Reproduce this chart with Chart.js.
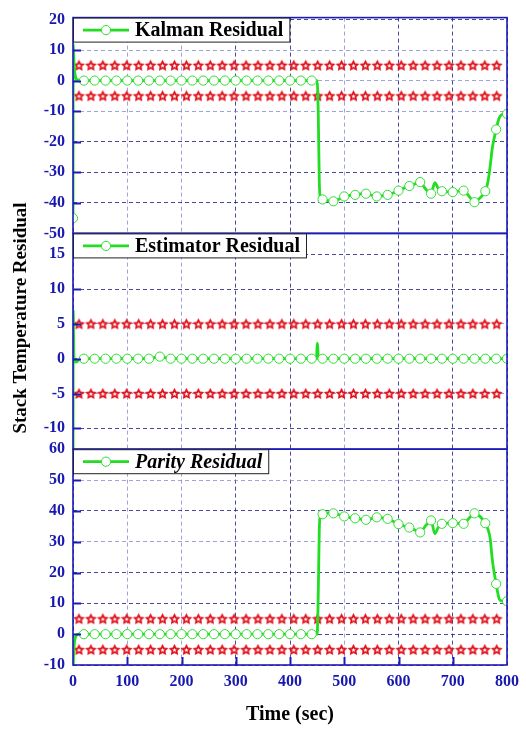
<!DOCTYPE html>
<html><head><meta charset="utf-8">
<script src="https://cdn.jsdelivr.net/npm/chart.js@4.4.1/dist/chart.umd.min.js"></script>
<style>html,body{margin:0;padding:0;background:#fff;}#wrap{width:526px;height:731px;position:relative;}</style>
</head><body><div id="wrap"><canvas id="c" width="526" height="731"></canvas></div>
<script>
// ---------- DATA ----------
const timeTicks = [0, 100, 200, 300, 400, 500, 600, 700, 800];

const kalmanT = [0, 0.4, 1.5, 3, 5, 8, 20, 40, 60, 80, 100, 120, 140, 160, 180, 200, 220, 240, 260, 280, 300, 320, 340, 360, 380, 400, 420, 440, 450, 452, 454, 456, 460, 470, 480, 490, 500, 510, 520, 530, 540, 550, 560, 570, 580, 590, 600, 610, 620, 630, 640, 650, 660, 667, 673, 680, 690, 700, 710, 720, 729, 740, 750, 760, 765, 769, 773, 780, 785, 790, 800];
const kalmanV = [-45, 12, 7, 3, 1, 0.2, 0, 0, 0, 0, 0, 0, 0, 0, 0, 0, 0, 0, 0, 0, 0, 0, 0, 0, 0, 0, 0, 0, 0, -10, -33, -38.5, -38.9, -39.3, -39.5, -38.8, -37.9, -37.6, -37.4, -37.1, -37, -37.5, -37.9, -37.7, -37.4, -36.8, -36, -35.2, -34.5, -33.8, -33.2, -35.5, -37, -33.4, -35.2, -36.2, -36.4, -36.5, -36.2, -36, -37.6, -39.8, -38.4, -36.2, -33, -28, -22, -16, -12.5, -11.2, -10.9];

const estT = [0, 0.4, 1.5, 3, 6, 10, 20, 40, 60, 80, 100, 120, 140, 160, 180, 200, 220, 240, 260, 280, 300, 320, 340, 360, 380, 400, 420, 440, 449, 450, 451, 452, 460, 480, 500, 520, 540, 560, 580, 600, 620, 640, 660, 680, 700, 720, 740, 760, 780, 800];
const estV = [-20, 7, 0.8, -0.3, -0.5, -0.2, 0, 0, 0, 0, 0, 0, 0, 0.3, 0, 0, 0, 0, 0, 0, 0, 0, 0, 0, 0, 0, 0, 0, 0, 2.2, 2.2, 0, 0, 0, 0, 0, 0, 0, 0, 0, 0, 0, 0, 0, 0, 0, 0, 0, 0, 0];

const parityT = [0, 1, 2.5, 4.5, 7, 10, 20, 40, 60, 80, 100, 120, 140, 160, 180, 200, 220, 240, 260, 280, 300, 320, 340, 360, 380, 400, 420, 440, 450, 452, 454, 456, 460, 470, 480, 490, 500, 510, 520, 530, 540, 550, 560, 570, 580, 590, 600, 610, 620, 630, 640, 650, 660, 667, 673, 680, 690, 700, 710, 720, 730, 740, 750, 760, 765, 769, 773, 780, 786, 792, 800];
const parityV = [-14, -7, -3, -1, -0.2, 0, 0, 0, 0, 0, 0, 0, 0, 0, 0, 0, 0, 0, 0, 0, 0, 0, 0, 0, 0, 0, 0, 0, 0, 12, 34, 38.5, 38.9, 39.3, 39.2, 38.8, 38.2, 37.8, 37.6, 37.3, 37.1, 37.5, 37.9, 37.7, 37.4, 36.6, 35.7, 35.1, 34.6, 33.8, 33, 35.2, 36.9, 32.6, 34.5, 35.8, 36, 36, 35.9, 35.8, 37.6, 39.2, 38.2, 36, 34, 31, 24, 16.3, 11.3, 10.7, 10.7];

const threshX = [11, 33, 55, 77, 99, 121, 143, 165, 187, 209, 231, 253, 275, 297, 319, 341, 363, 385, 407, 429, 451, 473, 495, 517, 539, 561, 583, 605, 627, 649, 671, 693, 715, 737, 759, 781];
const upperLimit = 5;
const lowerLimit = -5;

const seriesNames = ['Kalman Residual', 'Estimator Residual', 'Parity Residual'];
const yTitle = 'Stack Temperature Residual';
const xTitle = 'Time (sec)';

// ---------- STYLE ----------
const SERIF = "'Liberation Serif','Times New Roman',serif";
const BLUE = '#1818b0';
const FRAME = '#1a1ab8';
const GREEN = '#22dd22';
const DARKGRID = 'rgba(40,40,140,0.85)';
const LIGHTGRID = 'rgba(130,130,210,0.75)';

function pts(t, v) { return t.map((x, i) => ({ x: x, y: v[i] })); }
function thresh() {
  return threshX.map(x => ({ x: x, y: upperLimit })).concat(threshX.map(x => ({ x: x, y: lowerLimit })));
}

function makeStar() {
  const c = document.createElement('canvas');
  c.width = 13; c.height = 13;
  const g = c.getContext('2d');
  function star(cx, cy, ro, ri) {
    g.beginPath();
    for (let k = 0; k < 10; k++) {
      const r = k % 2 === 0 ? ro : ri;
      const a = -Math.PI / 2 + k * Math.PI / 5;
      const px = cx + r * Math.cos(a), py = cy + r * Math.sin(a);
      if (k === 0) g.moveTo(px, py); else g.lineTo(px, py);
    }
    g.closePath();
  }
  star(6.5, 6.9, 6.2, 3.1); g.fillStyle = '#e0101a'; g.fill();
  star(6.5, 7.1, 2.3, 1.0); g.fillStyle = '#ffffff'; g.fill();
  return c;
}
const starImg = makeStar();

function greenDs(label, t, v, axis) {
  return {
    label: label, data: pts(t, v), yAxisID: axis,
    borderColor: GREEN, borderWidth: 2.8, cubicInterpolationMode: 'monotone',
    pointRadius: ctx => (ctx.raw && ctx.raw.x % 20 === 0) ? 4.6 : 0,
    pointBackgroundColor: '#ffffff', pointBorderColor: '#33dd33', pointBorderWidth: 1,
    pointHoverRadius: 0, clip: 0, order: 0
  };
}
function starDs(axis) {
  return {
    label: 'limit', data: thresh(), yAxisID: axis, showLine: false,
    pointStyle: starImg, pointRadius: 5, pointHoverRadius: 5, clip: 0, order: 1
  };
}

const lightX = [100, 200, 500];
const lightY = { y1: [10, 0, -10], y2: [5, -5], y3: [50, 30] };

function yAxis(id, min, max, step) {
  return {
    type: 'linear', position: 'left', stack: 'panels', stackWeight: 1,
    min: min, max: max,
    afterFit: s => { s.width = 73; },
    ticks: { stepSize: step, includeBounds: false, autoSkip: false, padding: 8, color: BLUE,
      font: { family: SERIF, size: 16, weight: 'bold' } },
    grid: { drawTicks: false, lineWidth: 1,
      color: c => lightY[id].includes(c.tick.value) ? LIGHTGRID : DARKGRID },
    border: { display: false, dash: [4, 3] }
  };
}

const framePlugin = {
  id: 'frames',
  afterDatasetsDraw(chart) {
    const ctx = chart.ctx, a = chart.chartArea;
    ctx.save();
    ctx.strokeStyle = FRAME; ctx.lineWidth = 2;
    ['y1', 'y2', 'y3'].forEach(id => {
      const s = chart.scales[id];
      s.ticks.forEach(t => {
        const y = Math.round(s.getPixelForValue(t.value)) + 0.5;
        if (y < s.top + 2 || y > s.bottom - 2) return;
        ctx.beginPath(); ctx.moveTo(a.left, y); ctx.lineTo(a.left + 8, y); ctx.stroke();
      });
    });
    const xs = chart.scales.x;
    xs.ticks.forEach(t => {
      const x = Math.round(xs.getPixelForValue(t.value)) + 0.5;
      if (x < a.left + 2 || x > a.right - 2) return;
      ctx.beginPath(); ctx.moveTo(x, a.bottom); ctx.lineTo(x, a.bottom - 8); ctx.stroke();
    });
    ctx.lineWidth = 1.6; ctx.strokeStyle = FRAME;
    ['y1', 'y2', 'y3'].forEach(id => {
      const s = chart.scales[id];
      ctx.strokeRect(a.left, s.top, a.right - a.left, s.bottom - s.top);
    });
    ['y1', 'y2', 'y3'].forEach((id, i) => {
      const s = chart.scales[id];
      const name = seriesNames[i];
      const font = (i === 2 ? 'italic ' : '') + 'bold 20px ' + SERIF;
      ctx.font = font;
      const tw = ctx.measureText(name).width;
      const bx = a.left, by = s.top + 0.5, bh = 24, bw = 62 + tw + 6;
      ctx.fillStyle = '#fff'; ctx.fillRect(bx, by, bw, bh);
      ctx.lineWidth = 1; ctx.strokeStyle = '#222';
      ctx.strokeRect(bx + 0.5, by, bw, bh);
      const cy = by + bh / 2;
      ctx.strokeStyle = GREEN; ctx.lineWidth = 2.8;
      ctx.beginPath(); ctx.moveTo(bx + 10, cy); ctx.lineTo(bx + 56, cy); ctx.stroke();
      ctx.beginPath(); ctx.arc(bx + 33, cy, 4.6, 0, Math.PI * 2);
      ctx.fillStyle = '#fff'; ctx.fill(); ctx.lineWidth = 1; ctx.strokeStyle = '#33dd33'; ctx.stroke();
      ctx.fillStyle = '#000'; ctx.textBaseline = 'middle'; ctx.textAlign = 'left';
      ctx.fillText(name, bx + 62, cy + 1);
    });
    ctx.restore();
  },
  afterDraw(chart) {
    const ctx = chart.ctx;
    ctx.save();
    ctx.translate(21, 318);
    ctx.rotate(-Math.PI / 2);
    ctx.font = 'bold 19px ' + SERIF;
    ctx.fillStyle = '#000'; ctx.textAlign = 'center'; ctx.textBaseline = 'middle';
    ctx.fillText(yTitle, 0, 0);
    ctx.restore();
  }
};

new Chart(document.getElementById('c'), {
  type: 'line',
  data: {
    datasets: [
      greenDs(seriesNames[0], kalmanT, kalmanV, 'y1'),
      greenDs(seriesNames[1], estT, estV, 'y2'),
      greenDs(seriesNames[2], parityT, parityV, 'y3'),
      starDs('y1'), starDs('y2'), starDs('y3')
    ]
  },
  options: {
    responsive: false, animation: false, devicePixelRatio: 1,
    layout: { padding: { top: 15, right: 14, left: 0, bottom: 0 } },
    plugins: { legend: { display: false }, tooltip: { enabled: false } },
    events: [],
    scales: {
      x: {
        type: 'linear', min: 0, max: 800,
        afterFit: s => { s.height = 66; },
        afterBuildTicks: s => { s.ticks = timeTicks.map(v => ({ value: v })); },
        ticks: { autoSkip: false, maxRotation: 0, padding: 7, color: BLUE,
          font: { family: SERIF, size: 16, weight: 'bold' } },
        grid: { drawTicks: false, lineWidth: 1,
          color: c => lightX.includes(c.tick.value) ? LIGHTGRID : DARKGRID },
        border: { display: false, dash: [4, 3] },
        title: { display: true, text: xTitle, color: '#000', padding: { top: 0, bottom: 4 },
          font: { family: SERIF, size: 20, weight: 'bold' } }
      },
      y3: yAxis('y3', -10, 60, 10),
      y2: yAxis('y2', -13, 18, 5),
      y1: yAxis('y1', -50, 20.6, 10)
    }
  },
  plugins: [framePlugin]
});
</script></body></html>
